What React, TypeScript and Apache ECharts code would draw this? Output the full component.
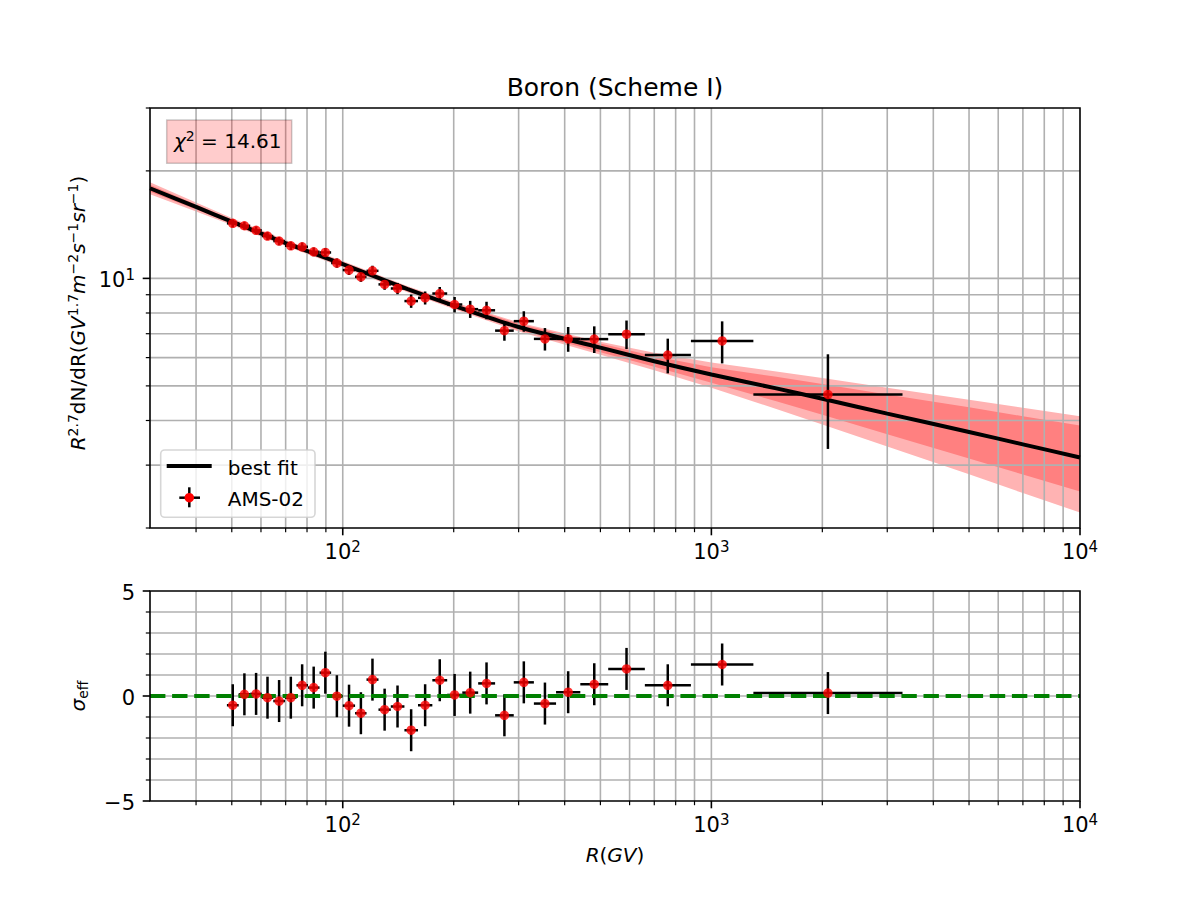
import React, { useEffect, useRef } from 'react';
import * as echarts from 'echarts';

const FONT = "'DejaVu Sans', Verdana, sans-serif";

// ---- AMS-02 boron measurements (rigidity bins in GV) ----
const binLow = [48.5, 52.2, 56.1, 60.3, 64.8, 69.7, 74.9, 80.5, 86.5, 93.0, 100, 108, 116, 125, 135, 147, 160, 175, 192, 211, 233, 259, 291, 330, 379, 441, 525, 660, 880, 1300];
const binHigh = [52.2, 56.1, 60.3, 64.8, 69.7, 74.9, 80.5, 86.5, 93.0, 100, 108, 116, 125, 135, 147, 160, 175, 192, 211, 233, 259, 291, 330, 379, 441, 525, 660, 880, 1300, 3300];
const binCenter = [50.3, 54.1, 58.2, 62.5, 67.2, 72.3, 77.6, 83.4, 89.7, 96.4, 104, 112, 120.4, 129.9, 140.8, 153.3, 167.3, 183.3, 201.1, 221.7, 245.5, 274.5, 309.9, 353.6, 408.8, 481.2, 588.6, 761.6, 1069.6, 2071];
const fluxValue = [14.26, 14.04, 13.63, 13.14, 12.72, 12.34, 12.26, 11.87, 11.82, 11.04, 10.55, 10.1, 10.5, 9.62, 9.37, 8.64, 8.82, 9.07, 8.45, 8.2, 8.14, 7.14, 7.59, 6.77, 6.77, 6.76, 6.98, 6.1, 6.68, 4.73];
const fluxError = [0.36, 0.36, 0.35, 0.34, 0.34, 0.33, 0.34, 0.33, 0.34, 0.33, 0.33, 0.32, 0.35, 0.33, 0.34, 0.37, 0.37, 0.39, 0.42, 0.45, 0.46, 0.45, 0.5, 0.49, 0.54, 0.58, 0.64, 0.68, 0.9, 1.4];

// ---- residuals (sigma_eff) ----
const residualValue = [-0.44, 0.08, 0.1, -0.08, -0.24, -0.08, 0.51, 0.4, 1.11, -0.01, -0.46, -0.82, 0.78, -0.65, -0.5, -1.63, -0.44, 0.75, 0.05, 0.16, 0.6, -0.92, 0.65, -0.36, 0.18, 0.56, 1.29, 0.51, 1.5, 0.14];
const residualError = [1, 1, 1, 1, 1, 1, 1, 1, 1, 1, 1, 1, 1, 1, 1, 1, 1, 1, 1, 1, 1, 1, 1, 1, 1, 1, 1, 1, 1, 1];

// ---- best fit and its uncertainty bands ----
const fitR = [30, 40, 50, 70, 100, 150, 200, 300, 500, 700, 1000, 1500, 2000, 3000, 5000, 7000, 10000];
const fitBest = [17.88, 15.85, 14.42, 12.56, 10.96, 9.33, 8.39, 7.31, 6.4, 5.86, 5.38, 4.92, 4.6, 4.18, 3.715, 3.43, 3.15];
const outerUpper = [18.59, 16.32, 14.75, 12.81, 11.18, 9.51, 8.59, 7.53, 6.65, 6.19, 5.81, 5.49, 5.26, 4.94, 4.57, 4.34, 4.11];
const outerLower = [17.2, 15.39, 14.1, 12.32, 10.75, 9.15, 8.21, 7.1, 6.11, 5.53, 4.94, 4.31, 3.9, 3.38, 2.83, 2.505, 2.21];
const innerUpper = [18.29, 16.11, 14.61, 12.71, 11.09, 9.45, 8.51, 7.46, 6.57, 6.05, 5.64, 5.3, 5.06, 4.73, 4.36, 4.11, 3.875];
const innerLower = [17.48, 15.59, 14.24, 12.42, 10.84, 9.21, 8.28, 7.17, 6.21, 5.66, 5.1, 4.53, 4.15, 3.66, 3.13, 2.825, 2.53];
const sigmaZero = [0, 0];

// ---- axes ----
const rRange = [30, 10000];
const fluxRange = [2, 30];
const sigmaRange = [-5, 5];
const xMajorTicks = [100, 1000, 10000];
const xTickExponents = ['2', '3', '4'];
const xMinorTicks = [40, 50, 60, 70, 80, 90, 200, 300, 400, 500, 600, 700, 800, 900, 2000, 3000, 4000, 5000, 6000, 7000, 8000, 9000];
const fluxMajorTicks = [10];
const fluxTickExponents = ['1'];
const fluxMinorTicks = [2, 3, 4, 5, 6, 7, 8, 9, 20, 30];
const sigmaMajorTicks = [-5, 0, 5];
const sigmaTickLabels = ['\u22125', '0', '5'];
const sigmaMinorTicks = [-4, -3, -2, -1, 1, 2, 3, 4];
const chiSquareText = '14.61';

const TOP_GRID = { left: 150, top: 108, width: 930, height: 420 };
const BOTTOM_GRID = { left: 150, top: 591, width: 930, height: 210 };

const GRID_COLOR = '#b0b0b0';

const rich: any = {
  r: { fontSize: 20, fontFamily: FONT, lineHeight: 24, fill: '#000' },
  i: { fontSize: 20, fontFamily: FONT, fontStyle: 'italic', lineHeight: 24, fill: '#000' },
  s: { fontSize: 14, fontFamily: FONT, lineHeight: 13, verticalAlign: 'top', fill: '#000' },
  sub: { fontSize: 14, fontFamily: FONT, lineHeight: 12, verticalAlign: 'bottom', fill: '#000' },
  tr: { fontSize: 21, fontFamily: FONT, lineHeight: 25, fill: '#000' },
  ts: { fontSize: 15, fontFamily: FONT, lineHeight: 14, verticalAlign: 'top', fill: '#000' },
};

const inside = (v: number, range: number[]) => v > range[0] && v < range[1];

function segmentSeries(xi: number, segments: number[][], style: any, z: number) {
  return {
    type: 'custom',
    xAxisIndex: xi,
    yAxisIndex: xi,
    z,
    silent: true,
    clip: false,
    data: segments,
    renderItem: (_p: any, api: any) => {
      const a = api.coord([api.value(0), api.value(1)]);
      const b = api.coord([api.value(2), api.value(3)]);
      return { type: 'line', shape: { x1: a[0], y1: a[1], x2: b[0], y2: b[1] }, style };
    },
  };
}

function tickSeries(xi: number, points: number[][], dir: 'down' | 'left', len: number, width: number) {
  return {
    type: 'custom',
    xAxisIndex: xi,
    yAxisIndex: xi,
    z: 8,
    silent: true,
    clip: false,
    data: points,
    renderItem: (_p: any, api: any) => {
      const p = api.coord([api.value(0), api.value(1)]);
      const q = dir === 'down' ? [p[0], p[1] + len] : [p[0] - len, p[1]];
      return { type: 'line', shape: { x1: p[0], y1: p[1], x2: q[0], y2: q[1] }, style: { stroke: '#000', lineWidth: width } };
    },
  };
}

function labelSeries(xi: number, points: number[][], texts: string[], place: 'below' | 'left') {
  return {
    type: 'custom',
    xAxisIndex: xi,
    yAxisIndex: xi,
    z: 8,
    silent: true,
    clip: false,
    data: points,
    renderItem: (params: any, api: any) => {
      const p = api.coord([api.value(0), api.value(1)]);
      const below = place === 'below';
      return {
        type: 'text',
        x: below ? p[0] : p[0] - 15,
        y: below ? p[1] + 11.5 : p[1] + 1.5,
        style: {
          text: texts[params.dataIndex],
          rich,
          fontSize: 21,
          fontFamily: FONT,
          fill: '#000',
          align: below ? 'center' : 'right',
          textAlign: below ? 'center' : 'right',
          verticalAlign: below ? 'top' : 'middle',
          textVerticalAlign: below ? 'top' : 'middle',
        },
      };
    },
  };
}

function bandSeries(upper: number[], lower: number[], fill: string, z: number) {
  return {
    type: 'custom',
    xAxisIndex: 0,
    yAxisIndex: 0,
    z,
    silent: true,
    clip: false,
    data: fitR.map((r, i) => [r, upper[i], lower[i]]),
    renderItem: (params: any, api: any) => {
      if (params.dataIndex !== 0) return null;
      const pts: number[][] = [];
      fitR.forEach((r, i) => pts.push(api.coord([r, upper[i]])));
      for (let i = fitR.length - 1; i >= 0; i--) pts.push(api.coord([fitR[i], lower[i]]));
      return { type: 'polygon', shape: { points: pts }, style: { fill } };
    },
  };
}

function errorBarSeries(xi: number, values: number[], errors: number[]) {
  return {
    type: 'custom',
    xAxisIndex: xi,
    yAxisIndex: xi,
    z: 5,
    silent: true,
    clip: false,
    data: binCenter.map((r, i) => [r, values[i], binLow[i], binHigh[i], errors[i]]),
    renderItem: (_p: any, api: any) => {
      const r = api.value(0);
      const v = api.value(1);
      const e = api.value(4);
      const top = api.coord([r, v + e]);
      const bot = api.coord([r, v - e]);
      const left = api.coord([api.value(2), v]);
      const right = api.coord([api.value(3), v]);
      const style = { stroke: '#000', lineWidth: 2.5 };
      return {
        type: 'group',
        children: [
          { type: 'line', shape: { x1: top[0], y1: top[1], x2: bot[0], y2: bot[1] }, style },
          { type: 'line', shape: { x1: left[0], y1: left[1], x2: right[0], y2: right[1] }, style },
        ],
      };
    },
  };
}

function buildOption(): any {
  const hidden = {
    axisLine: { show: false },
    axisTick: { show: false },
    axisLabel: { show: false },
    splitLine: { show: false },
    minorTick: { show: false },
    minorSplitLine: { show: false },
  };
  const xGridValues = [...xMinorTicks, ...xMajorTicks].filter((v) => inside(v, rRange));
  const gridStyle = { stroke: GRID_COLOR, lineWidth: 1.6 };

  const xTickLabelTexts = xTickExponents.map((e) => `{tr|10}{ts|${e}}`);
  const fluxTickLabelTexts = fluxTickExponents.map((e) => `{tr|10}{ts|${e}}`);
  const sigmaLabelTexts = sigmaTickLabels.map((t) => `{tr|${t}}`);

  const series: any[] = [
    // uncertainty bands
    bandSeries(outerUpper, outerLower, '#ffb3b3', 1),
    bandSeries(innerUpper, innerLower, '#ff8080', 1),
    // grid lines, upper panel
    segmentSeries(0, xGridValues.map((v) => [v, fluxRange[0], v, fluxRange[1]]), gridStyle, 2),
    segmentSeries(0, [...fluxMinorTicks, ...fluxMajorTicks].filter((v) => inside(v, fluxRange)).map((v) => [rRange[0], v, rRange[1], v]), gridStyle, 2),
    // grid lines, lower panel
    segmentSeries(1, xGridValues.map((v) => [v, sigmaRange[0], v, sigmaRange[1]]), gridStyle, 2),
    segmentSeries(1, [...sigmaMinorTicks, ...sigmaMajorTicks].filter((v) => inside(v, sigmaRange)).map((v) => [rRange[0], v, rRange[1], v]), gridStyle, 2),
    // best fit
    {
      type: 'line',
      name: 'best fit',
      xAxisIndex: 0,
      yAxisIndex: 0,
      z: 4,
      data: fitR.map((r, i) => [r, fitBest[i]]),
      showSymbol: false,
      symbol: 'none',
      smooth: 0.25,
      lineStyle: { color: '#000', width: 4 },
      silent: true,
    },
    // measurements
    errorBarSeries(0, fluxValue, fluxError),
    {
      type: 'scatter',
      name: 'AMS-02',
      xAxisIndex: 0,
      yAxisIndex: 0,
      z: 6,
      symbol: 'circle',
      symbolSize: 9.5,
      itemStyle: { color: '#ff0000' },
      data: binCenter.map((r, i) => [r, fluxValue[i]]),
      silent: true,
    },
    // residuals
    errorBarSeries(1, residualValue, residualError),
    {
      type: 'line',
      xAxisIndex: 1,
      yAxisIndex: 1,
      z: 5.5,
      data: rRange.map((r, i) => [r, sigmaZero[i]]),
      showSymbol: false,
      symbol: 'none',
      lineStyle: { color: '#008000', width: 4.2, type: [15.4, 6.7] },
      silent: true,
    },
    {
      type: 'scatter',
      xAxisIndex: 1,
      yAxisIndex: 1,
      z: 6,
      symbol: 'circle',
      symbolSize: 9.5,
      itemStyle: { color: '#ff0000' },
      data: binCenter.map((r, i) => [r, residualValue[i]]),
      silent: true,
    },
    // ticks
    tickSeries(0, xMajorTicks.map((v) => [v, fluxRange[0]]), 'down', 7.3, 1.6),
    tickSeries(0, xMinorTicks.map((v) => [v, fluxRange[0]]), 'down', 4.2, 1.2),
    tickSeries(0, fluxMajorTicks.map((v) => [rRange[0], v]), 'left', 7.3, 1.6),
    tickSeries(0, fluxMinorTicks.map((v) => [rRange[0], v]), 'left', 4.2, 1.2),
    tickSeries(1, xMajorTicks.map((v) => [v, sigmaRange[0]]), 'down', 7.3, 1.6),
    tickSeries(1, xMinorTicks.map((v) => [v, sigmaRange[0]]), 'down', 4.2, 1.2),
    tickSeries(1, sigmaMajorTicks.map((v) => [rRange[0], v]), 'left', 7.3, 1.6),
    tickSeries(1, sigmaMinorTicks.map((v) => [rRange[0], v]), 'left', 4.2, 1.2),
    // tick labels
    labelSeries(0, xMajorTicks.map((v) => [v, fluxRange[0]]), xTickLabelTexts, 'below'),
    labelSeries(0, fluxMajorTicks.map((v) => [rRange[0], v]), fluxTickLabelTexts, 'left'),
    labelSeries(1, xMajorTicks.map((v) => [v, sigmaRange[0]]), xTickLabelTexts, 'below'),
    labelSeries(1, sigmaMajorTicks.map((v) => [rRange[0], v]), sigmaLabelTexts, 'left'),
  ];

  const textStyle = (extra: any) => ({ fontFamily: FONT, fill: '#000', ...extra });

  const graphic: any[] = [
    // frames
    { type: 'rect', z: 50, silent: true, shape: { x: TOP_GRID.left, y: TOP_GRID.top, width: TOP_GRID.width, height: TOP_GRID.height }, style: { fill: 'none', stroke: '#000', lineWidth: 1.6 } },
    { type: 'rect', z: 50, silent: true, shape: { x: BOTTOM_GRID.left, y: BOTTOM_GRID.top, width: BOTTOM_GRID.width, height: BOTTOM_GRID.height }, style: { fill: 'none', stroke: '#000', lineWidth: 1.6 } },
    // title
    { type: 'text', z: 50, x: 615, y: 87, style: textStyle({ text: 'Boron (Scheme I)', fontSize: 25, align: 'center', textAlign: 'center', verticalAlign: 'middle', textVerticalAlign: 'middle' }) },
    // axis titles
    {
      type: 'text', z: 50, x: 78, y: 313, rotation: Math.PI / 2,
      style: textStyle({
        text: '{i|R}{s|2.7}{r|dN/dR(}{i|GV}{s|1.7}{i|m}{s|\u22122}{i|s}{s|\u22121}{i|sr}{s|\u22121}{r|)}',
        rich, fontSize: 20, align: 'center', textAlign: 'center', verticalAlign: 'middle', textVerticalAlign: 'middle',
      }),
    },
    {
      type: 'text', z: 50, x: 78, y: 696, rotation: Math.PI / 2,
      style: textStyle({ text: '{i|\u03c3}{sub|eff}', rich, fontSize: 20, align: 'center', textAlign: 'center', verticalAlign: 'middle', textVerticalAlign: 'middle' }),
    },
    {
      type: 'text', z: 50, x: 615, y: 855,
      style: textStyle({ text: '{i|R}{r|(}{i|GV}{r|)}', rich, fontSize: 20, align: 'center', textAlign: 'center', verticalAlign: 'middle', textVerticalAlign: 'middle' }),
    },
    // chi-square box
    { type: 'rect', z: 40, silent: true, shape: { x: 166.7, y: 120, width: 125, height: 43.3 }, style: { fill: 'rgba(255,0,0,0.2)', stroke: 'rgba(0,0,0,0.2)', lineWidth: 1.5 } },
    {
      type: 'text', z: 41, x: 174, y: 140.5,
      style: textStyle({ text: `{i|\u03c7}{s|2}{r| = ${chiSquareText}}`, rich, fontSize: 20, align: 'left', textAlign: 'left', verticalAlign: 'middle', textVerticalAlign: 'middle' }),
    },
    // legend
    { type: 'rect', z: 40, silent: true, shape: { x: 160.7, y: 450, width: 154.3, height: 67.3, r: 4 }, style: { fill: 'rgba(255,255,255,0.8)', stroke: 'rgba(204,204,204,0.8)', lineWidth: 1.6 } },
    { type: 'line', z: 41, silent: true, shape: { x1: 166.7, y1: 466, x2: 211.7, y2: 466 }, style: { stroke: '#000', lineWidth: 4 } },
    { type: 'line', z: 41, silent: true, shape: { x1: 179.3, y1: 497.7, x2: 200, y2: 497.7 }, style: { stroke: '#000', lineWidth: 2.5 } },
    { type: 'line', z: 41, silent: true, shape: { x1: 189.3, y1: 487.3, x2: 189.3, y2: 507.3 }, style: { stroke: '#000', lineWidth: 2.5 } },
    { type: 'circle', z: 42, silent: true, shape: { cx: 189.3, cy: 497.7, r: 4.75 }, style: { fill: '#ff0000' } },
    { type: 'text', z: 41, x: 227.7, y: 468, style: textStyle({ text: 'best fit', fontSize: 20, align: 'left', textAlign: 'left', verticalAlign: 'middle', textVerticalAlign: 'middle' }) },
    { type: 'text', z: 41, x: 227.7, y: 499, style: textStyle({ text: 'AMS-02', fontSize: 20, align: 'left', textAlign: 'left', verticalAlign: 'middle', textVerticalAlign: 'middle' }) },
  ];

  return {
    animation: false,
    backgroundColor: '#ffffff',
    grid: [
      { ...TOP_GRID, show: false },
      { ...BOTTOM_GRID, show: false },
    ],
    xAxis: [
      { type: 'log', logBase: 10, min: rRange[0], max: rRange[1], gridIndex: 0, ...hidden },
      { type: 'log', logBase: 10, min: rRange[0], max: rRange[1], gridIndex: 1, ...hidden },
    ],
    yAxis: [
      { type: 'log', logBase: 10, min: fluxRange[0], max: fluxRange[1], gridIndex: 0, ...hidden },
      { type: 'value', min: sigmaRange[0], max: sigmaRange[1], gridIndex: 1, ...hidden },
    ],
    series,
    graphic,
  };
}

export default function App() {
  const ref = useRef<HTMLDivElement>(null);
  useEffect(() => {
    const el = ref.current;
    if (!el) return;
    const chart = echarts.init(el, undefined, { renderer: 'svg' });
    chart.setOption(buildOption());
    return () => chart.dispose();
  }, []);
  return (
    <div
      ref={ref}
      style={{ position: 'absolute', left: 0, top: 0, width: 1200, height: 900, background: '#ffffff' }}
    />
  );
}
